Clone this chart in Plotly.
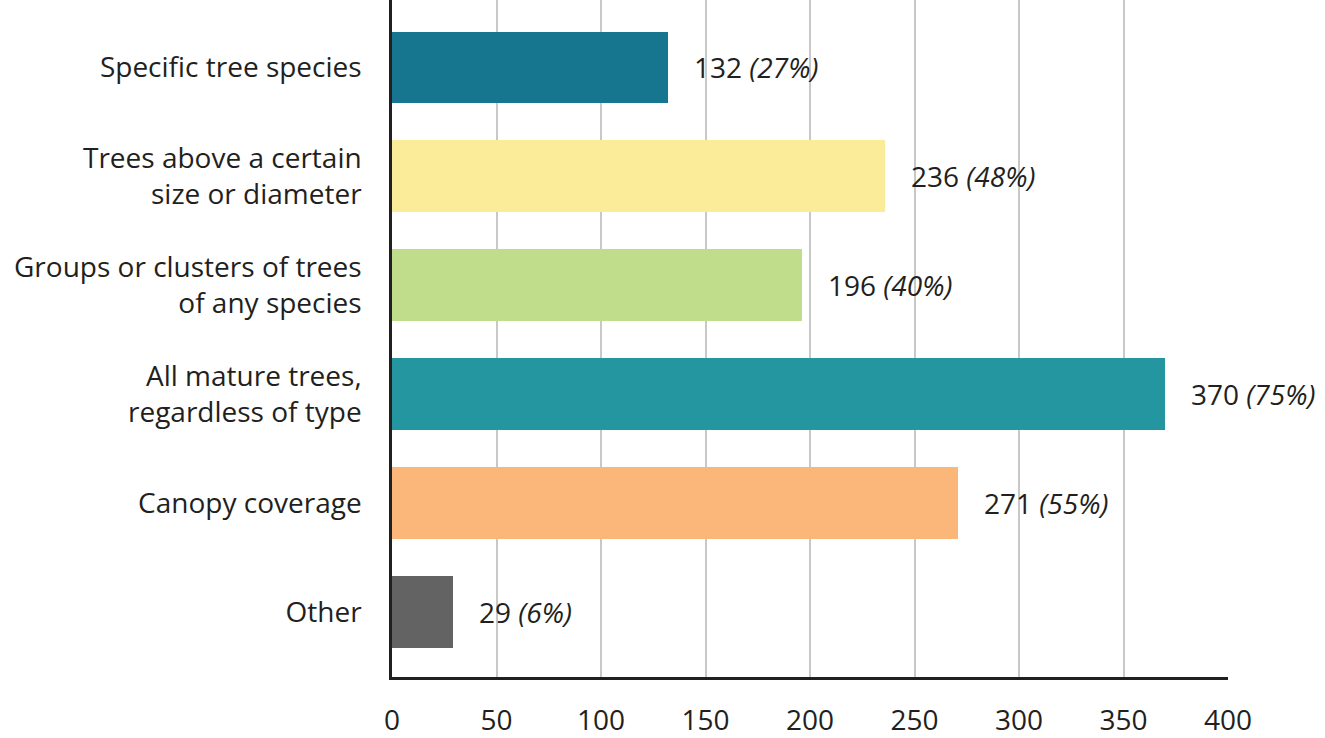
import plotly.graph_objects as go

categories = [
    "Specific tree species",
    "Trees above a certain<br>size or diameter",
    "Groups or clusters of trees<br>of any species",
    "All mature trees,<br>regardless of type",
    "Canopy coverage",
    "Other",
]
values = [132, 236, 196, 370, 271, 29]
percents = ["27%", "48%", "40%", "75%", "55%", "6%"]
colors = ["#16758f", "#fbec9a", "#c0dd8b", "#2496a0", "#fbb679", "#636363"]
tick_vals = [0, 50, 100, 150, 200, 250, 300, 350, 400]

FONT = "Open Sans"
TXT = "#231f20"

fig = go.Figure()
fig.add_trace(go.Bar(
    x=values, y=categories, orientation="h",
    marker=dict(color=colors, line=dict(width=0)),
    width=0.66, showlegend=False, hoverinfo="skip",
))

for cat, v, p in zip(categories, values, percents):
    fig.add_annotation(
        x=v, y=cat, xref="x", yref="y",
        text=f"{v} <i>({p})</i>", showarrow=False,
        xanchor="left", yanchor="middle", xshift=24, yshift=0,
        font=dict(family=FONT, size=28, color=TXT),
    )

fig.update_layout(
    width=1325, height=738,
    margin=dict(l=392, r=97, t=0, b=55),
    plot_bgcolor="white", paper_bgcolor="white",
    bargap=0,
    font=dict(family=FONT, size=24, color=TXT),
)
fig.update_xaxes(
    range=[0, 400], tickvals=tick_vals,
    showgrid=True, gridcolor="#c8c8c8", gridwidth=2,
    showline=True, linecolor=TXT, linewidth=2.5,
    zeroline=False, ticks="", ticklabelstandoff=17,
    tickfont=dict(family=FONT, size=28, color=TXT),
)
fig.update_yaxes(
    type="category", categoryorder="array", categoryarray=categories,
    range=[5.6, -0.62],
    showline=True, linecolor=TXT, linewidth=2.5,
    showgrid=False, zeroline=False, ticks="", ticklabelstandoff=22,
    tickfont=dict(family=FONT, size=28, color=TXT),
)

fig.write_html("out.html")
